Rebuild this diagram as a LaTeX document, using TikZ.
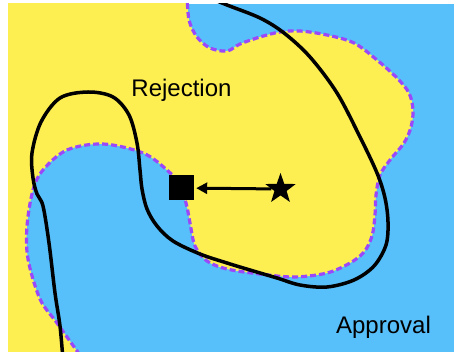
\documentclass[tikz,border=0pt]{standalone}
\usepackage{fontspec}
\setmainfont{Liberation Sans}
\usetikzlibrary{arrows.meta,shapes.geometric}
\definecolor{ryellow}{RGB}{253,238,82}
\definecolor{ablue}{RGB}{87,191,249}
\definecolor{bpurple}{RGB}{155,72,250}
\tikzset{
  dbound/.style  = {bpurple, line width=3.2pt, dash pattern=on 6pt off 3pt},
  model/.style   = {black, line width=3.5pt, line cap=round},
  sig/.style     = {-{Triangle[length=11pt,width=11pt]}, line width=3pt},
  region/.style  = {font=\fontsize{24}{28}\selectfont, anchor=base, inner sep=0pt},
}
% true decision boundary (dashed) and the fitted model (solid)
\newcommand{\boundarycurve}{plot[smooth,tension=0.55] coordinates {
  (187,-6) (189,20) (197,37) (210,48) (227,51) (240,44) (260,37) (280,32)
  (300,31) (327,35) (354,43) (377,60) (397,78) (409,93) (413,110) (411,127)
  (404,143) (390,160) (380,175) (376,195) (375,215) (372,236) (364,252)
  (350,263) (327,273) (294,277) (260,274) (227,269) (207,261) (195,246)
  (190,223) (186,203) (178,183) (167,170) (143,153) (103,144) (67,150)
  (43,170) (33,190) (27,226) (28,259) (40,299) (57,323) (82,358)}}
\newcommand{\modelcurve}{plot[smooth,tension=0.55] coordinates {
  (200,-6) (227,5) (260,18) (284,33) (310,57) (337,93) (360,137) (377,173)
  (385,198) (388,222) (386,245) (374,266) (354,280) (327,287) (300,285)
  (277,278) (250,270) (227,263) (200,254) (173,241) (157,226) (147,209)
  (142,189) (140,170) (137,143) (129,115) (113,97) (88,92) (60,98) (41,122)
  (32,153) (33,178) (37,194) (43,206) (49,243) (55,293) (60,326) (63,360)}}

\begin{document}
\begin{tikzpicture}[x=1pt,y=-1pt]
\useasboundingbox (0,0) rectangle (454,352);
\begin{scope}
\clip (8,4) rectangle (454,352);
\fill[ablue] (8,4) rectangle (454,352);
\fill[ryellow] \boundarycurve -- (0,362) -- (0,-8) -- cycle;
\draw[dbound] \boundarycurve;
\draw[model] \modelcurve;
\end{scope}

\node[region] (rej) at (181.5,97) {Rejection};
\node[region] (app) at (383.5,333) {Approval};

\node[fill=black, minimum size=25pt, inner sep=0pt] (box) at (181.5,188) {};
\node[star, star points=5, star point ratio=2.5, fill=black,
      minimum size=32pt, inner sep=0pt] (query) at (280.5,189) {};
\draw[sig, shorten >=2pt] (query) -- (box);
\end{tikzpicture}
\end{document}
